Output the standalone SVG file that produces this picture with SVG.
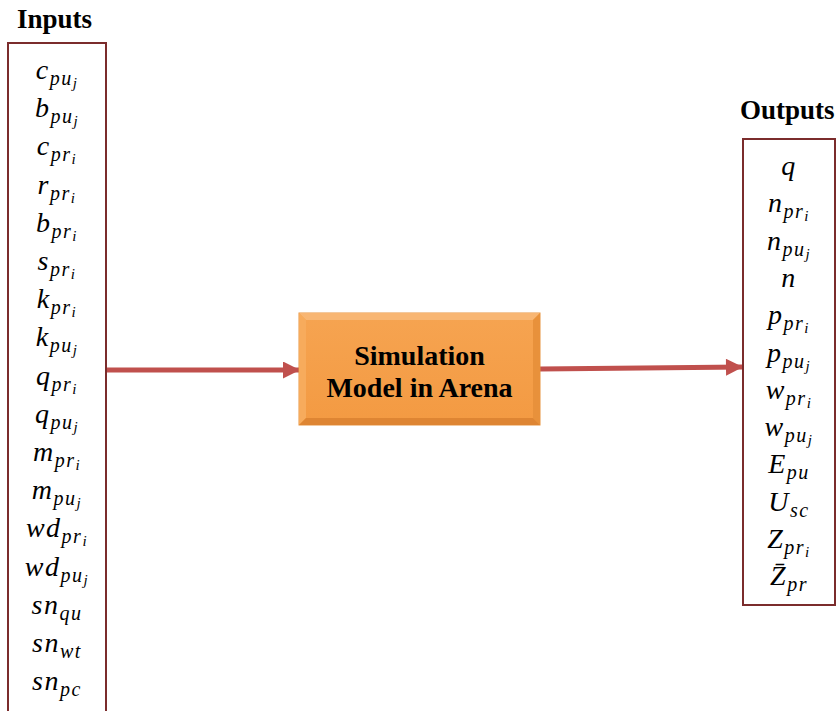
<svg xmlns="http://www.w3.org/2000/svg" width="840" height="711" viewBox="0 0 840 711">
<defs>
<style>
.title{font-family:"Liberation Serif","Times New Roman",serif;font-weight:bold;font-size:27px;fill:#000}
.box{fill:#fff;stroke:#7b2c2c;stroke-width:2}
.m{font-family:"Liberation Serif","Times New Roman",serif;font-style:italic;font-size:28px;fill:#000;text-anchor:middle;letter-spacing:1.5px}
.s{font-size:20px}
.ss{font-size:15px}
.lbl{font-family:"Liberation Serif","Times New Roman",serif;font-weight:bold;font-size:28px;fill:#000;text-anchor:middle}
.conn{stroke:#c0504d;stroke-width:5;fill:none}
</style>
<marker id="ah" viewBox="0 0 10 10" refX="10" refY="5" markerWidth="3.6" markerHeight="3.4" orient="auto" markerUnits="strokeWidth">
<path d="M0,0 L10,5 L0,10 z" fill="#c0504d"/>
</marker>
<linearGradient id="og" x1="0" y1="0" x2="0" y2="1">
<stop offset="0" stop-color="#f6a451"/>
<stop offset="1" stop-color="#f39a42"/>
</linearGradient>
</defs>

<g id="connectors">
<line class="conn" x1="107" y1="370" x2="300" y2="370" marker-end="url(#ah)"/>
<line class="conn" x1="540" y1="369" x2="743" y2="367" marker-end="url(#ah)"/>
</g>

<g id="inputs">
<text class="title" x="17" y="28">Inputs</text>
<rect class="box" x="8" y="43" width="98" height="690"/>
<text class="m" x="57" y="79">c<tspan class="s" dy="6">pu</tspan><tspan class="ss" dy="3">j</tspan></text>
<text class="m" x="57" y="117.2">b<tspan class="s" dy="6">pu</tspan><tspan class="ss" dy="3">j</tspan></text>
<text class="m" x="57" y="155.4">c<tspan class="s" dy="6">pr</tspan><tspan class="ss" dy="3">i</tspan></text>
<text class="m" x="57" y="193.6">r<tspan class="s" dy="6">pr</tspan><tspan class="ss" dy="3">i</tspan></text>
<text class="m" x="57" y="231.8">b<tspan class="s" dy="6">pr</tspan><tspan class="ss" dy="3">i</tspan></text>
<text class="m" x="57" y="270">s<tspan class="s" dy="6">pr</tspan><tspan class="ss" dy="3">i</tspan></text>
<text class="m" x="57" y="308.2">k<tspan class="s" dy="6">pr</tspan><tspan class="ss" dy="3">i</tspan></text>
<text class="m" x="57" y="346.4">k<tspan class="s" dy="6">pu</tspan><tspan class="ss" dy="3">j</tspan></text>
<text class="m" x="57" y="384.6">q<tspan class="s" dy="6">pr</tspan><tspan class="ss" dy="3">i</tspan></text>
<text class="m" x="57" y="422.8">q<tspan class="s" dy="6">pu</tspan><tspan class="ss" dy="3">j</tspan></text>
<text class="m" x="57" y="461">m<tspan class="s" dy="6">pr</tspan><tspan class="ss" dy="3">i</tspan></text>
<text class="m" x="57" y="499.2">m<tspan class="s" dy="6">pu</tspan><tspan class="ss" dy="3">j</tspan></text>
<text class="m" x="57" y="537.4">wd<tspan class="s" dy="6">pr</tspan><tspan class="ss" dy="3">i</tspan></text>
<text class="m" x="57" y="575.6">wd<tspan class="s" dy="6">pu</tspan><tspan class="ss" dy="3">j</tspan></text>
<text class="m" x="57" y="613.8">sn<tspan class="s" dy="6">qu</tspan></text>
<text class="m" x="57" y="652">sn<tspan class="s" dy="6">wt</tspan></text>
<text class="m" x="57" y="690.2">sn<tspan class="s" dy="6">pc</tspan></text>
</g>

<g id="simulation">
<rect x="299" y="313" width="241" height="112" fill="url(#og)" stroke="#e8943f" stroke-width="1"/>
<polygon points="299,313 540,313 533,320 306,320" fill="#f8b673"/>
<polygon points="299,313 306,320 306,418 299,425" fill="#f7ab5c"/>
<polygon points="540,313 540,425 533,418 533,320" fill="#e8913b"/>
<polygon points="299,425 306,418 533,418 540,425" fill="#de8533"/>
<text class="lbl" x="419.5" y="365">Simulation</text>
<text class="lbl" x="419.5" y="397">Model in Arena</text>
</g>

<g id="outputs">
<text class="title" x="740" y="119">Outputs</text>
<rect class="box" x="743" y="139" width="92" height="466"/>
<text class="m" x="789" y="175">q</text>
<text class="m" x="789" y="212.3">n<tspan class="s" dy="6">pr</tspan><tspan class="ss" dy="3">i</tspan></text>
<text class="m" x="789" y="249.6">n<tspan class="s" dy="6">pu</tspan><tspan class="ss" dy="3">j</tspan></text>
<text class="m" x="789" y="286.9">n</text>
<text class="m" x="789" y="324.2">p<tspan class="s" dy="6">pr</tspan><tspan class="ss" dy="3">i</tspan></text>
<text class="m" x="789" y="361.5">p<tspan class="s" dy="6">pu</tspan><tspan class="ss" dy="3">j</tspan></text>
<text class="m" x="789" y="398.8">w<tspan class="s" dy="6">pr</tspan><tspan class="ss" dy="3">i</tspan></text>
<text class="m" x="789" y="436.1">w<tspan class="s" dy="6">pu</tspan><tspan class="ss" dy="3">j</tspan></text>
<text class="m" x="789" y="473.4">E<tspan class="s" dy="6">pu</tspan></text>
<text class="m" x="789" y="510.7">U<tspan class="s" dy="6">sc</tspan></text>
<text class="m" x="789" y="548">Z<tspan class="s" dy="6">pr</tspan><tspan class="ss" dy="3">i</tspan></text>
<text class="m" x="789" y="585.3">Z&#x0304;<tspan class="s" dy="6">pr</tspan></text>
</g>
</svg>
